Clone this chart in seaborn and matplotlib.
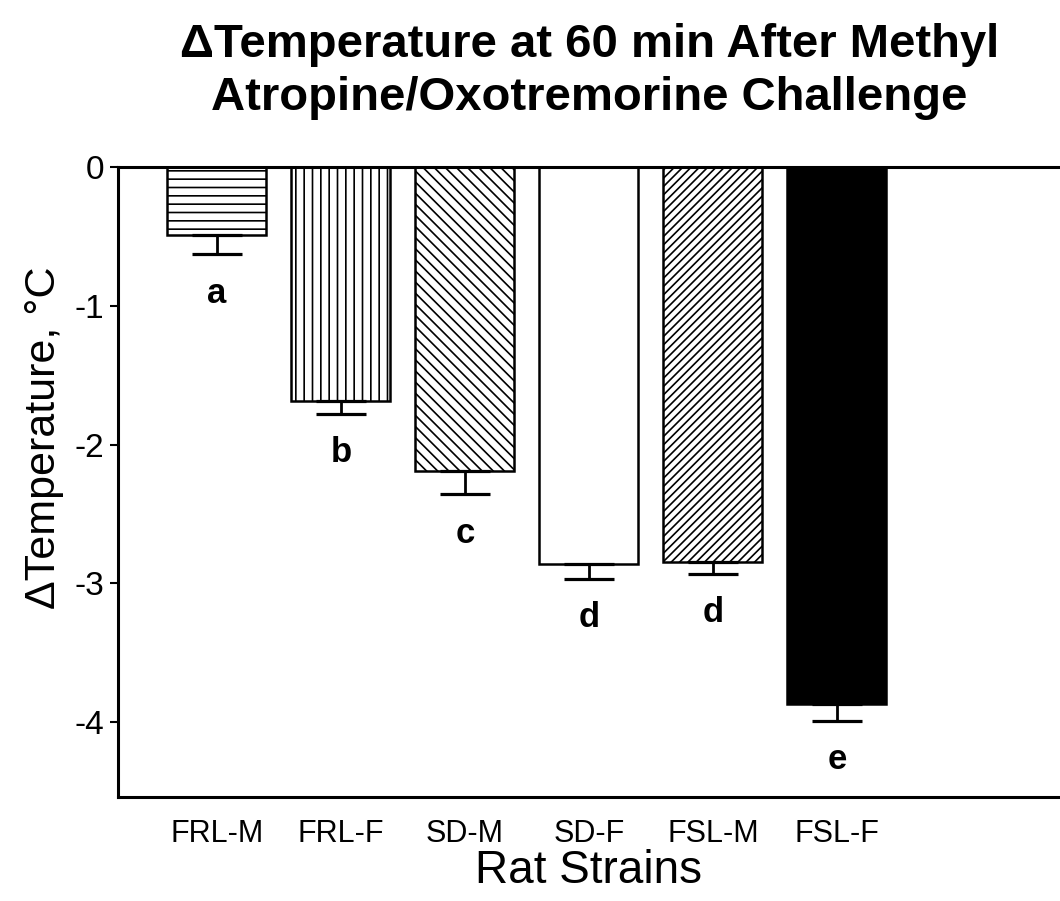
import numpy as np
import pandas as pd
import matplotlib
matplotlib.use('Agg')
import matplotlib.pyplot as plt
import seaborn as sns

# data
strains = ['FRL-M', 'FRL-F', 'SD-M', 'SD-F', 'FSL-M', 'FSL-F']
delta_temp = [-0.49, -1.69, -2.19, -2.86, -2.85, -3.87]
sem = [0.14, 0.09, 0.17, 0.11, 0.08, 0.12]
letters = ['a', 'b', 'c', 'd', 'd', 'e']

hatches = ['--', '||', '\\\\\\', '', '////', '']
fills = ['white', 'white', 'white', 'white', 'white', 'black']

sns.set_theme(style='ticks')
plt.rcParams['font.family'] = ['Liberation Sans', 'DejaVu Sans']
plt.rcParams['hatch.linewidth'] = 1.2
plt.rcParams['hatch.color'] = 'black'
for k in ['text.color', 'axes.labelcolor', 'xtick.color', 'ytick.color']:
    plt.rcParams[k] = 'black'

df = pd.DataFrame({'strain': strains, 'dT': delta_temp})

fig = plt.figure(figsize=(10.6, 9.01), dpi=100)
ax = fig.add_axes([0.111, 0.1154, 0.889, 0.6993])

sns.barplot(data=df, x='strain', y='dT', order=strains, width=0.8,
            color='white', edgecolor='black', linewidth=1.8, errorbar=None, ax=ax)
for bar, h, fc in zip(ax.patches, hatches, fills):
    bar.set_hatch(h)
    bar.set_facecolor(fc)

x = np.arange(len(strains))
ax.errorbar(x, delta_temp, yerr=[sem, np.zeros(len(sem))], fmt='none',
            ecolor='black', elinewidth=2.0, capsize=18, capthick=2.3, zorder=3)

for xi, v, e, lab in zip(x, delta_temp, sem, letters):
    ax.annotate(lab, (xi, v - e), xytext=(0, -16), textcoords='offset points',
                ha='center', va='top', fontsize=25, fontweight='bold')

ax.set_ylim(-4.54, 0)
ax.set_xlim(-0.8, 6.8)
ax.set_yticks([0, -1, -2, -3, -4])
ax.set_yticklabels(['0', '-1', '-2', '-3', '-4'])
ax.tick_params(axis='y', labelsize=24, width=1.5, length=6, pad=4)
ax.tick_params(axis='x', labelsize=22, length=0, pad=16)

for s in ['left', 'bottom', 'top']:
    ax.spines[s].set_linewidth(2.2)
    ax.spines[s].set_color('black')
ax.spines['right'].set_visible(False)

ax.set_xlabel('Rat Strains', fontsize=33, labelpad=0)
ax.set_ylabel('ΔTemperature, °C', fontsize=31)
ax.yaxis.set_label_coords(-0.057, 0.571)
fig.suptitle('ΔTemperature at 60 min After Methyl\nAtropine/Oxotremorine Challenge',
             fontsize=34, fontweight='bold', x=0.556, y=0.974, linespacing=1.25)

fig.savefig('out.png', dpi=100)
